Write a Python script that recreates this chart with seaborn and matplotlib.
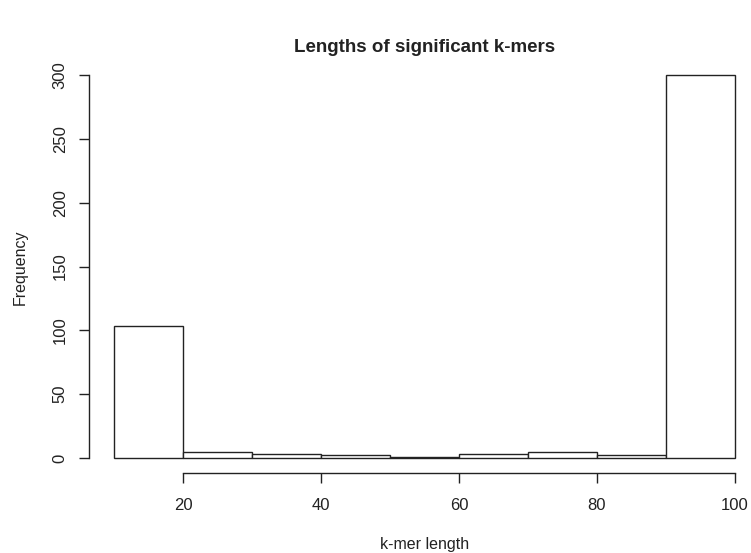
import matplotlib
matplotlib.use("Agg")
import matplotlib.pyplot as plt
import seaborn as sns
import numpy as np

# Data
bin_edges = [10, 20, 30, 40, 50, 60, 70, 80, 90, 100]
counts = [103, 5, 3, 2, 1, 3, 5, 2, 300]
x_ticks = [20, 40, 60, 80, 100]
y_ticks = [0, 50, 100, 150, 200, 250, 300]
title = "Lengths of significant k-mers"
x_label = "k-mer length"
y_label = "Frequency"

sns.set_style("white")
plt.rcParams['font.family'] = ['Liberation Sans', 'DejaVu Sans']

fig = plt.figure(figsize=(7.51, 5.53), dpi=100)
W, H = 751, 553
ax = fig.add_axes([89.2 / W, (H - 473.3) / H, 670.6 / W, (473.3 - 59.7) / H])

centers = [(bin_edges[i] + bin_edges[i + 1]) / 2 for i in range(len(counts))]
sns.histplot(x=centers, weights=counts, bins=bin_edges, ax=ax,
             color="white", edgecolor="#222222", linewidth=1.0, alpha=1.0)

ax.set_xlim(6.4, 103.6)
ax.set_ylim(-12, 312)

for s in ["top", "right"]:
    ax.spines[s].set_visible(False)
for s in ["left", "bottom"]:
    ax.spines[s].set_visible(True)
    ax.spines[s].set_color("#222222")
    ax.spines[s].set_linewidth(1.0)
ax.spines["left"].set_bounds(0, 300)
ax.spines["bottom"].set_bounds(20, 100)

ax.set_xticks(x_ticks)
ax.set_yticks(y_ticks)
ax.set_xticklabels([str(v) for v in x_ticks])
ax.set_yticklabels([str(v) for v in y_ticks], rotation=90, va="center")
ax.tick_params(axis="both", direction="out", length=7.5, width=1.0,
               color="#222222", labelsize=12, labelcolor="#222222",
               left=True, bottom=True)
ax.tick_params(axis="x", pad=10)
ax.tick_params(axis="y", pad=8)

ax.set_xlabel("")
ax.set_ylabel("")
fig.text(424.5 / W, 1 - 545 / H, x_label, ha="center", va="center",
         fontsize=11.5, color="#222222")
fig.text(20 / W, 1 - 267 / H, y_label, ha="center", va="center",
         rotation=90, fontsize=11.5, color="#222222")
fig.text(424.5 / W, 1 - 48 / H, title, ha="center", va="center",
         fontsize=13.5, fontweight="bold", color="#222222")

fig.savefig("out.png", dpi=100)
